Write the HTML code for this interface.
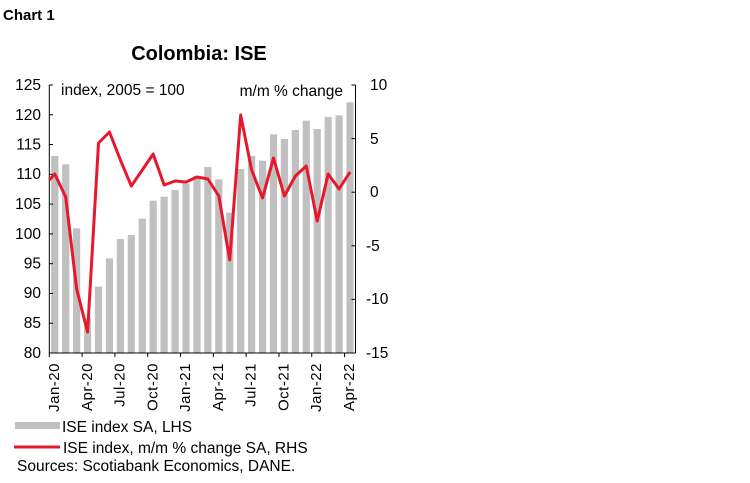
<!DOCTYPE html>
<html><head><style>body{margin:0;background:#fff}svg{display:block}text{font-family:"Liberation Sans",sans-serif}</style></head><body>
<svg width="750" height="483" xmlns="http://www.w3.org/2000/svg">
<text x="3" y="20" font-size="15" font-weight="bold">Chart 1</text>
<text x="199" y="60" font-size="20" font-weight="bold" text-anchor="middle">Colombia: ISE</text>
<g id="bars" fill="#c0c0c0"></g>
<line x1="49.3" y1="85" x2="49.3" y2="353" stroke="#000"/>
<line x1="355.5" y1="85" x2="355.5" y2="353" stroke="#000"/>
<line x1="49.3" y1="353" x2="355.5" y2="353" stroke="#000"/>
<g font-size="15.5" fill="#000" text-anchor="end">
<text x="41" y="90">125</text><text x="41" y="120">120</text><text x="41" y="149.5">115</text><text x="41" y="179">110</text><text x="41" y="209">105</text><text x="41" y="239">100</text><text x="41" y="268.5">95</text><text x="41" y="298">90</text><text x="41" y="328">85</text><text x="41" y="358">80</text>
</g>
<g font-size="15.5" fill="#000">
<text x="370" y="90">10</text><text x="370" y="144">5</text><text x="370" y="197">0</text><text x="366" y="251">-5</text><text x="366" y="304">-10</text><text x="366" y="358">-15</text>
</g>
<text x="61" y="95" font-size="15.5">index, 2005 = 100</text>
<text x="343" y="96" font-size="15.5" text-anchor="end">m/m % change</text>
<g font-size="15" text-anchor="end" letter-spacing="0.5">
<text transform="translate(59,363) rotate(-90)">Jan-20</text>
<text transform="translate(91.8,363) rotate(-90)">Apr-20</text>
<text transform="translate(124.5,363) rotate(-90)">Jul-20</text>
<text transform="translate(157.3,363) rotate(-90)">Oct-20</text>
<text transform="translate(190,363) rotate(-90)">Jan-21</text>
<text transform="translate(222.8,363) rotate(-90)">Apr-21</text>
<text transform="translate(255.5,363) rotate(-90)">Jul-21</text>
<text transform="translate(288.3,363) rotate(-90)">Oct-21</text>
<text transform="translate(321.1,363) rotate(-90)">Jan-22</text>
<text transform="translate(353.8,363) rotate(-90)">Apr-22</text>
</g>
<rect x="15" y="422" width="45" height="7" fill="#c0c0c0"/>
<text x="62" y="432" font-size="15.5">ISE index SA, LHS</text>
<line x1="14" y1="447" x2="60" y2="447" stroke="#e8182c" stroke-width="3"/>
<text x="63" y="453" font-size="15.5">ISE index, m/m % change SA, RHS</text>
<text x="17" y="471" font-size="15.5">Sources: Scotiabank Economics, DANE.</text>
</svg>
<script>
var tops=[258,283,475,745,650,565,507,495,446,392,380,360,340,318,291,328,428,297,258,272,193,207,180,152,177,141,136,97];
var ly=[174,197,289,332,143,132,160,186,170,154,185,181,182,177,179,196,260,115,170,198,158,196,176,166,221,174,189,172];
var ns="http://www.w3.org/2000/svg",s=document.querySelector('svg'),b=document.getElementById('bars');
var w=(355.5-49.3)/28,pts="49.3,180";
for(var i=0;i<28;i++){var cx=49.3+w*(i+0.5),t=70+tops[i]/3;
var r=document.createElementNS(ns,'rect');r.setAttribute('x',cx-3.6);r.setAttribute('y',t);r.setAttribute('width',7.2);r.setAttribute('height',353-t);r.setAttribute('fill','#c0c0c0');b.appendChild(r);
pts+=" "+cx+","+ly[i];}
for(var i=0;i<=28;i+=3){var x=49.3+w*i;var l=document.createElementNS(ns,'line');l.setAttribute('x1',x);l.setAttribute('x2',x);l.setAttribute('y1',353);l.setAttribute('y2',357);l.setAttribute('stroke','#000');s.appendChild(l);}
for(var i=0;i<10;i++){var y=85+i*268/9;var l=document.createElementNS(ns,'line');l.setAttribute('x1',49.3);l.setAttribute('x2',53);l.setAttribute('y1',y);l.setAttribute('y2',y);l.setAttribute('stroke','#000');s.appendChild(l);}
for(var i=0;i<6;i++){var y=85+i*268/5;var l=document.createElementNS(ns,'line');l.setAttribute('x1',351.5);l.setAttribute('x2',355.5);l.setAttribute('y1',y);l.setAttribute('y2',y);l.setAttribute('stroke','#000');s.appendChild(l);}
var p=document.createElementNS(ns,'polyline');p.setAttribute('points',pts);p.setAttribute('fill','none');p.setAttribute('stroke','#e8182c');p.setAttribute('stroke-width','3');p.setAttribute('stroke-linejoin','round');s.appendChild(p);
</script>
</body></html>
